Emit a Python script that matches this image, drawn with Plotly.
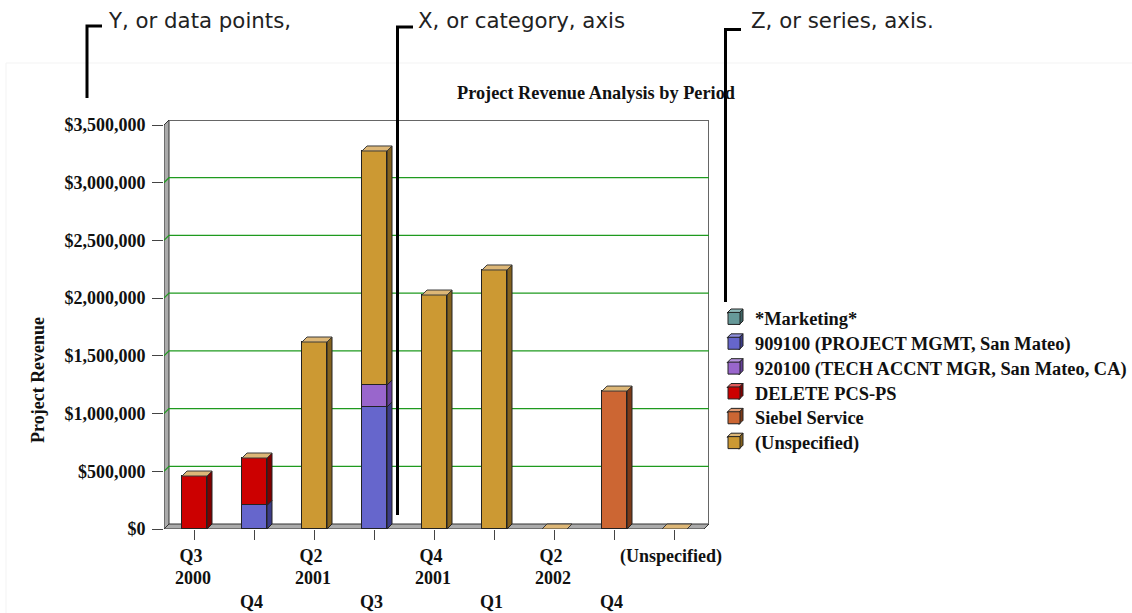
import plotly.graph_objects as go

W, H = 1150, 613  # slightly wider than the 1132 window so that the legend does not squeeze the plot
quarters = ["Q3", "Q4", "Q2", "Q3", "Q4", "Q1", "Q2", "Q4", "(Unspecified)"]
years = ["2000", "", "2001", "", "2001", "", "2002", "", ""]
tick_values = [0, 500000, 1000000, 1500000, 2000000, 2500000, 3000000, 3500000]
tick_labels = ["$0", "$500,000", "$1,000,000", "$1,500,000", "$2,000,000", "$2,500,000", "$3,000,000", "$3,500,000"]

marketing = [0, 0, 0, 0, 0, 0, 0, 0, 0]
project_mgmt = [0, 205000, 0, 1057000, 0, 0, 0, 0, 0]
tech_accnt = [0, 0, 0, 190000, 0, 0, 0, 0, 0]
delete_pcs = [459000, 410000, 0, 0, 0, 0, 0, 0, 0]
siebel = [0, 0, 0, 0, 0, 0, 0, 1195000, 0]
unspecified = [0, 0, 1620000, 2028000, 2027000, 2244000, 0, 0, 0]

series = [
    ("*Marketing*", marketing, "#669999", "#3f6565", "#8fbaba"),
    ("909100 (PROJECT MGMT, San Mateo)", project_mgmt, "#6666CC", "#3c3c88", "#9090dd"),
    ("920100 (TECH ACCNT MGR, San Mateo, CA)", tech_accnt, "#9966CC", "#664099", "#b592dd"),
    ("DELETE PCS-PS", delete_pcs, "#CC0000", "#800000", "#e25a5a"),
    ("Siebel Service", siebel, "#CC6633", "#7c3a18", "#e09a72"),
    ("(Unspecified)", unspecified, "#CC9933", "#84621e", "#DDB777"),
]

SERIF = "Liberation Serif"
SANS = "DejaVu Sans"
EDGE = "#222222"
L, R, T, B = 164, 709, 120, 529
PX_X = 60.0
PX_Y = 3500000 / 404.0
DX, DY = 5 / PX_X, 5 * PX_Y
BAR_W = 25 / PX_X
BAR_OFF = 0.5 / PX_X
x_range = [(L - 194) / PX_X, (R - 194) / PX_X]
y_range = [0, (B - T) * PX_Y]
xs = list(range(len(quarters)))


def py(p):
    return (B - p) / (B - T)


def px(p):
    return (p - L) / (R - L)


fig = go.Figure()

# front faces
for name, vals, col, side, top in series:
    fig.add_trace(go.Bar(
        x=[i + BAR_OFF for i in xs], y=vals, width=BAR_W,
        name=f'<span style="font-size:18.4px">{name}</span>',
        marker=dict(color=col, line=dict(color=EDGE, width=1)),
    ))

# side faces of each stacked segment
base = [0] * len(xs)
for name, vals, col, side, top in series:
    sx, sy = [], []
    for i, v in enumerate(vals):
        if v > 0:
            xr = i + BAR_OFF + BAR_W / 2
            b, t = base[i], base[i] + v
            sx += [xr, xr + DX, xr + DX, xr, xr, None]
            sy += [b, b + DY, t + DY, t, b, None]
        base[i] += v
    if sx:
        fig.add_trace(go.Scatter(x=sx, y=sy, mode="lines", fill="toself", fillcolor=side,
                                 line=dict(color=EDGE, width=1), showlegend=False, hoverinfo="skip"))

# top faces (the zero-height last series lies on every stack)
tx, ty = [], []
for i in xs:
    xl, xr = i + BAR_OFF - BAR_W / 2, i + BAR_OFF + BAR_W / 2
    t = base[i]
    tx += [xl, xr, xr + DX, xl + DX, xl, None]
    ty += [t, t, t + DY, t + DY, t, None]
fig.add_trace(go.Scatter(x=tx, y=ty, mode="lines", fill="toself", fillcolor=series[-1][4],
                         line=dict(color="#3a3a3a", width=1), showlegend=False, hoverinfo="skip"))

x0, x1 = x_range
top_v = y_range[1]
shapes = [
    # faint page panel
    dict(type="rect", xref="paper", yref="paper", x0=px(6), x1=px(1148), y0=py(63), y1=py(620),
         line=dict(color="#f3f3f3", width=1), fillcolor="white", layer="below"),
    # wall, floor, back edges
    dict(type="path", xref="x", yref="y", layer="below",
         path=f"M{x0},0 L{x0},{tick_values[-1]} L{x0 + DX},{top_v} L{x0 + DX},{DY} Z",
         fillcolor="#ababab", line=dict(color="#333333", width=1)),
    dict(type="path", xref="x", yref="y", layer="below",
         path=f"M{x0},0 L{x1 - DX},0 L{x1},{DY} L{x0 + DX},{DY} Z",
         fillcolor="#ababab", line=dict(color="#333333", width=1)),
    dict(type="line", xref="x", yref="y", layer="below", x0=x0 + DX, x1=x1, y0=top_v, y1=top_v,
         line=dict(color="#666666", width=2)),
    dict(type="line", xref="x", yref="y", layer="below", x0=x1, x1=x1, y0=DY, y1=top_v,
         line=dict(color="#666666", width=2)),
]
# gridlines on the back plane
for v in tick_values[1:-1]:
    shapes.append(dict(type="path", xref="x", yref="y", layer="below",
                       path=f"M{x0},{v} L{x0 + DX},{v + DY} L{x1},{v + DY}",
                       line=dict(color="#1f9a1f", width=1.2)))
# callout elbows
for xv, y_end, y_top, x_end in [(87, 98, 26, 102), (397.5, 515, 27, 413), (725.5, 302, 29.5, 741)]:
    shapes.append(dict(type="path", xref="paper", yref="paper", layer="above",
                       path=f"M{px(xv)},{py(y_end)} L{px(xv)},{py(y_top)} L{px(x_end)},{py(y_top)}",
                       line=dict(color="black", width=3)))
# legend cubes: top and side faces around the native swatches
LEG_CX, LEG_Y0, LEG_STEP = 733, 319, 24.84
for k, (name, vals, col, side, top) in enumerate(series):
    cy = LEG_Y0 + k * LEG_STEP
    a, b, c, d = LEG_CX - 6, LEG_CX + 6, cy - 6, cy + 6
    shapes.append(dict(type="path", xref="paper", yref="paper", layer="above",
                       path=f"M{px(a)},{py(c)} L{px(a + 4)},{py(c - 4)} L{px(b + 4)},{py(c - 4)} L{px(b)},{py(c)} Z",
                       fillcolor=top, line=dict(color=EDGE, width=1)))
    shapes.append(dict(type="path", xref="paper", yref="paper", layer="above",
                       path=f"M{px(b)},{py(c)} L{px(b + 4)},{py(c - 4)} L{px(b + 4)},{py(d - 4)} L{px(b)},{py(d)} Z",
                       fillcolor=side, line=dict(color=EDGE, width=1)))

ann = []
label_font = dict(family=SERIF, size=18, color="#111111", weight="bold")
for i, (q, y) in enumerate(zip(quarters, years)):
    if y:
        ann.append(dict(x=i, y=py(578), text=y, xref="x", yref="paper", showarrow=False, yanchor="middle",
                        font=label_font, xshift=-1))
    elif q != "(Unspecified)":
        ann.append(dict(x=i, y=py(602), text=q, xref="x", yref="paper", showarrow=False, yanchor="middle",
                        font=label_font, xshift=-3))
ann.append(dict(x=px(38), y=py(380), text="Project Revenue", textangle=-90, xref="paper", yref="paper",
                xanchor="center", yanchor="middle", showarrow=False, font=label_font))
for text, xp in [("Y, or data points,", 106), ("X, or category, axis", 416), ("Z, or series, axis.", 749)]:
    ann.append(dict(x=px(xp), y=py(20.5), text=text, xref="paper", yref="paper", xanchor="left", yanchor="middle",
                    showarrow=False, font=dict(family=SANS, size=21.3, color="#222222")))

first_row = [q if (y or q == "(Unspecified)") else "" for q, y in zip(quarters, years)]

fig.update_layout(
    width=W, height=H, autosize=False,
    margin=dict(l=L, r=W - R, t=T, b=H - B, pad=0),
    paper_bgcolor="white", plot_bgcolor="rgba(0,0,0,0)",
    barmode="stack", bargap=0,
    title=dict(text="Project Revenue Analysis by Period", x=596 / W, xanchor="center",
               y=1 - 93 / H, yanchor="middle", font=dict(family=SERIF, size=18.3, color="#111111", weight="bold")),
    xaxis=dict(range=x_range, tickvals=xs, ticktext=first_row, ticks="outside", ticklen=10, tickwidth=1,
               tickcolor="#444444", showline=False, showgrid=False, zeroline=False, ticklabelshift=-3,
               ticklabelstandoff=0, tickfont=label_font),
    yaxis=dict(range=y_range, tickvals=tick_values, ticktext=tick_labels, ticks="outside", ticklen=11,
               tickwidth=1, tickcolor="#444444", showline=False, showgrid=False, zeroline=False,
               ticklabelstandoff=3, tickfont=label_font),
    legend=dict(x=px(713), xanchor="left", y=py(301), yanchor="top", traceorder="normal", itemwidth=32,
                bgcolor="rgba(0,0,0,0)", borderwidth=0, itemclick=False,
                font=dict(family=SERIF, size=16.8, color="#111111", weight="bold")),
    shapes=shapes, annotations=ann, showlegend=True,
)

fig.write_html("out.html", config=dict(displayModeBar=False),
               post_script="document.body.style.margin='0';document.documentElement.style.overflow='hidden';document.body.style.overflow='hidden';")
